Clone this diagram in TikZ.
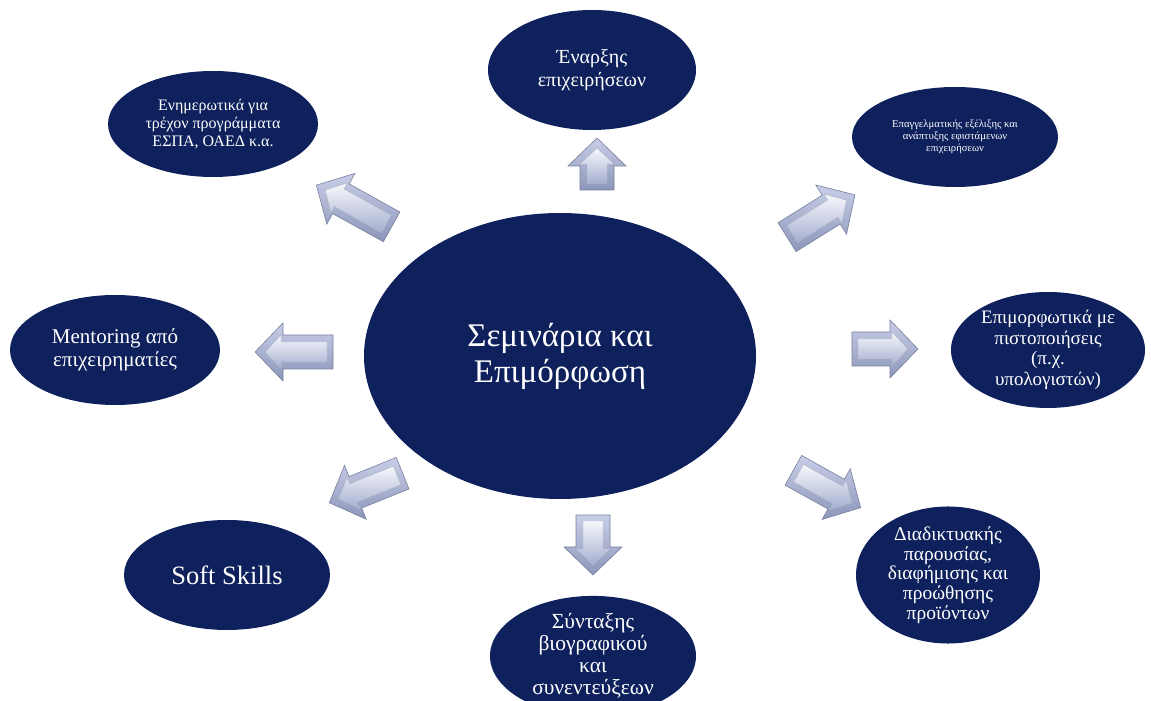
\documentclass[tikz,border=0pt]{standalone}
\usepackage{fontspec}
\setmainfont{Liberation Serif}
\usetikzlibrary{shapes.geometric}
\definecolor{navy}{RGB}{14,33,92}
\definecolor{arrA}{RGB}{200,206,232}
\definecolor{arrB}{RGB}{140,150,185}
\definecolor{arrC}{RGB}{165,174,208}
\definecolor{arrE}{RGB}{120,128,158}

\begin{document}
\begin{tikzpicture}[x=1pt, y=1pt,
	e/.style= {ellipse, fill=navy, text=white, align=center, inner sep=0pt},
	arr/.pic= {
		\shade[top color=arrA, bottom color=arrB, draw=arrE, line width=0.6pt]
			({-#1/2},-17) -- ({#1/2-28},-17) -- ({#1/2-28},-29) -- ({#1/2},0)
			-- ({#1/2-28},29) -- ({#1/2-28},17) -- ({-#1/2},17) -- cycle;
		\shade[top color=white!85!arrA, bottom color=arrC, draw=arrE!60, line width=0.4pt]
			({-#1/2+6},-10) -- ({#1/2-26},-10) -- ({#1/2-26},-17) -- ({#1/2-10},0)
			-- ({#1/2-26},17) -- ({#1/2-26},10) -- ({-#1/2+6},10) -- cycle;
	}]
		\useasboundingbox (0,0) rectangle (1151,701);

		\node[e, minimum width=392pt, minimum height=286pt, font=\fontsize{33}{36}\selectfont] (0) at (560,345) {Σεμινάρια και\\Επιμόρφωση};
		\node[e, minimum width=208pt, minimum height=120pt, font=\fontsize{20}{23}\selectfont] (1) at (592,631) {Έναρξης\\επιχειρήσεων};
		\node[e, minimum width=206pt, minimum height=100pt, font=\fontsize{10.7}{12}\selectfont] (2) at (955,564) {Επαγγελματικής εξέλιξης και\\ανάπτυξης εφιστάμενων\\επιχειρήσεων};
		\node[e, minimum width=194pt, minimum height=116pt, font=\fontsize{19}{20.5}\selectfont] (3) at (1048,351) {Επιμορφωτικά με\\πιστοποιήσεις\\(π.χ.\\υπολογιστών)};
		\node[e, minimum width=184pt, minimum height=110pt, font=\fontsize{19.5}{19.75}\selectfont] (4) at (948,126) {Διαδικτυακής\\παρουσίας,\\διαφήμισης και\\προώθησης\\προϊόντων};
		\node[e, minimum width=206pt, minimum height=116pt, font=\fontsize{21.5}{22}\selectfont] (5) at (593,45) {Σύνταξης\\βιογραφικού\\και\\συνεντεύξεων};
		\node[e, minimum width=206pt, minimum height=110pt, font=\fontsize{26.5}{30}\selectfont] (6) at (227,126) {Soft Skills};
		\node[e, minimum width=210pt, minimum height=110pt, font=\fontsize{21}{23}\selectfont] (7) at (115,351) {Mentoring από\\επιχειρηματίες};
		\node[e, minimum width=210pt, minimum height=106pt, font=\fontsize{16}{18}\selectfont] (8) at (213,577) {Ενημερωτικά για\\τρέχον προγράμματα\\ΕΣΠΑ, ΟΑΕΔ κ.α.};

		\pic[rotate=90] at (597,537) {arr=52};
		\pic[rotate=32] at (821,485) {arr=80};
		\pic at (885,352) {arr=66};
		\pic[rotate=-29] at (827,212) {arr=77};
		\pic[rotate=-90] at (593,156) {arr=60};
		\pic[rotate=202] at (366,213) {arr=79};
		\pic[rotate=180] at (294,349) {arr=78};
		\pic[rotate=151] at (354,495) {arr=86};
\end{tikzpicture}
\end{document}
